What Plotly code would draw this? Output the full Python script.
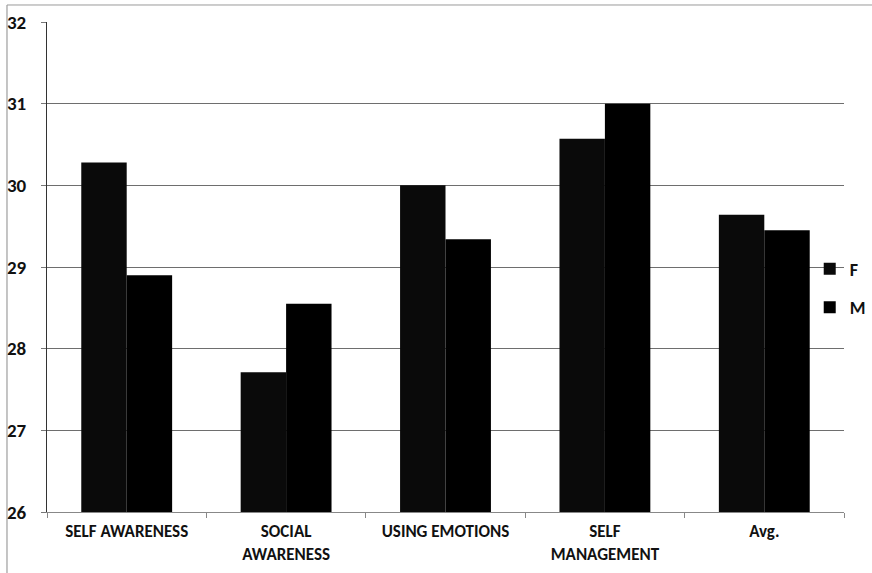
import plotly.graph_objects as go

categories = ["SELF AWARENESS", "SOCIAL<br>AWARENESS", "USING EMOTIONS", "SELF<br>MANAGEMENT", "Avg."]
female = [30.28, 27.71, 30.0, 30.57, 29.64]
male = [28.9, 28.55, 29.34, 31.0, 29.45]
y_ticks = [26, 27, 28, 29, 30, 31, 32]

font_family = "Carlito, Lato, Open Sans, sans-serif"

fig = go.Figure()
fig.add_trace(go.Bar(name="F", x=categories, y=female, marker=dict(color="#0a0a0a", line=dict(width=0)),
                     legendgroup="F"))
fig.add_trace(go.Bar(name="M", x=categories, y=male, marker=dict(color="#000000", line=dict(width=0)),
                     legendgroup="M"))

fig.update_layout(
    width=872, height=573,
    margin=dict(l=47, r=28, t=22, b=61, autoexpand=False),
    paper_bgcolor="white", plot_bgcolor="white",
    barmode="group", bargap=0.43, bargroupgap=0,
    font=dict(family=font_family, color="#111111"),
    showlegend=True,
    legend=dict(x=0.957, y=0.457, xanchor="left", yanchor="middle", bgcolor="rgba(0,0,0,0)",
                font=dict(size=18, color="#111111", weight=600), tracegroupgap=12,
                itemwidth=30),
    xaxis=dict(
        type="category", showgrid=False,
        showline=True, linecolor="#888888", linewidth=1,
        ticks="outside", tickson="boundaries", ticklen=5, tickcolor="#888888",
        tickfont=dict(size=17, color="#111111", weight=600),
        ticklabelstandoff=4,
    ),
    yaxis=dict(
        range=[26, 32], tickvals=y_ticks, ticktext=[str(v) for v in y_ticks],
        showgrid=True, gridcolor="#6e6e6e", gridwidth=1,
        showline=True, linecolor="#333333", linewidth=1,
        ticks="outside", ticklen=5, tickcolor="#777777",
        tickfont=dict(size=19, color="#111111", weight=700),
        ticklabelstandoff=11,
        zeroline=False,
    ),
    shapes=[
        dict(type="line", xref="paper", yref="paper", x0=-0.0502, x1=-0.0502, y0=1.0347, y1=-0.2,
             line=dict(color="#8a8a8a", width=1)),
        dict(type="line", xref="paper", yref="paper", x0=-0.0502, x1=1.04, y0=1.0347, y1=1.0347,
             line=dict(color="#9a9a9a", width=1)),
    ],
)

fig.write_html("out.html")
